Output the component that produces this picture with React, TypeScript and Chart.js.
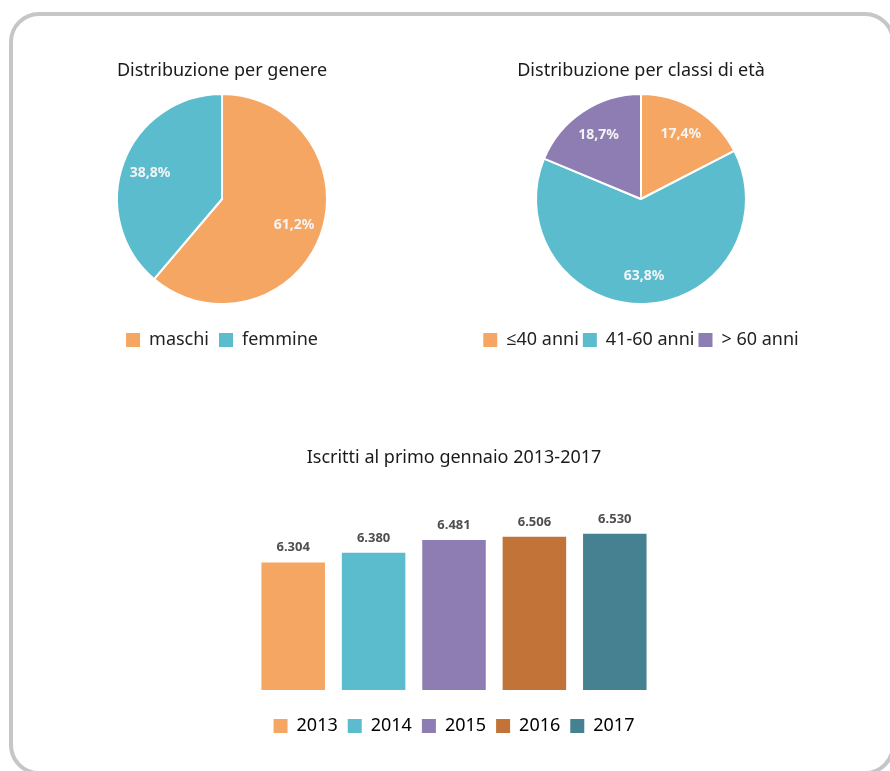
import React, { useEffect, useRef } from "react";
import { Chart, registerables } from "chart.js";

Chart.register(...registerables);

const FONT = '"Noto Sans", "Open Sans", sans-serif';

// ---- data ----
const genderTitle = "Distribuzione per genere";
const genderLabels = ["maschi", "femmine"];
const genderValues = [61.2, 38.8];
const genderColors = ["#F6A663", "#5BBCCE"];

const ageTitle = "Distribuzione per classi di età";
const ageLabels = ["≤40 anni", "41-60 anni", "> 60 anni"];
const ageValues = [17.4, 63.8, 18.7];
const ageColors = ["#F6A663", "#5BBCCE", "#8D7DB3"];

const barTitle = "Iscritti al primo gennaio 2013-2017";
const years = ["2013", "2014", "2015", "2016", "2017"];
const enrolled = [6304, 6380, 6481, 6506, 6530];
const yearColors = ["#F6A663", "#5BBCCE", "#8D7DB3", "#C27338", "#458190"];

const Y_MIN = 5300;
const Y_MAX = 6745;

const fmtPct = (v: number) => v.toFixed(1).replace(".", ",") + "%";
const fmtThousands = (v: number) =>
  Math.floor(v / 1000) + "." + String(v % 1000).padStart(3, "0");

const pieLabelPlugin = {
  id: "pieLabels",
  afterDatasetsDraw(chart: any) {
    const ctx = chart.ctx;
    const meta = chart.getDatasetMeta(0);
    const values = chart.data.datasets[0].data as number[];
    ctx.save();
    ctx.font = `bold 14px ${FONT}`;
    ctx.fillStyle = "#f4f4f4";
    ctx.textAlign = "center";
    ctx.textBaseline = "middle";
    meta.data.forEach((arc: any, i: number) => {
      const p = arc.getProps(["x", "y", "startAngle", "endAngle", "outerRadius"], true);
      const mid = (p.startAngle + p.endAngle) / 2;
      const r = p.outerRadius * 0.73;
      ctx.fillText(fmtPct(values[i]), p.x + Math.cos(mid) * r, p.y + Math.sin(mid) * r);
    });
    ctx.restore();
  },
};

const barLabelPlugin = {
  id: "barLabels",
  afterDatasetsDraw(chart: any) {
    const ctx = chart.ctx;
    const meta = chart.getDatasetMeta(0);
    const values = chart.data.datasets[0].data as number[];
    ctx.save();
    ctx.font = `bold 13px ${FONT}`;
    ctx.fillStyle = "#4f4f4f";
    ctx.textAlign = "center";
    ctx.textBaseline = "middle";
    meta.data.forEach((bar: any, i: number) => {
      const p = bar.getProps(["x", "y"], true);
      ctx.fillText(fmtThousands(values[i]), p.x, p.y - 15);
    });
    ctx.restore();
  },
};

type PieProps = {
  title: string;
  labels: string[];
  values: number[];
  colors: string[];
  legendPadding: number;
  titleLineHeight: number;
  titlePadTop: number;
  left: number;
  top: number;
  width: number;
  height: number;
};

function PieChart(props: PieProps) {
  const ref = useRef<HTMLCanvasElement>(null);
  useEffect(() => {
    const chart = new Chart(ref.current as HTMLCanvasElement, {
      type: "pie",
      data: {
        labels: props.labels,
        datasets: [
          {
            data: props.values,
            backgroundColor: props.colors,
            borderColor: "#ffffff",
            borderWidth: 2,
            radius: 105,
          } as any,
        ],
      },
      options: {
        animation: false,
        responsive: false,
        maintainAspectRatio: false,
        radius: 105,
        layout: { padding: 0 },
        plugins: {
          tooltip: { enabled: false },
          title: {
            display: true,
            text: props.title,
            color: "#1a1a1a",
            font: { family: FONT, size: 18, weight: "normal", lineHeight: props.titleLineHeight },
            padding: { top: props.titlePadTop, bottom: 0 },
          },
          legend: {
            position: "bottom",
            labels: {
              boxWidth: 14,
              boxHeight: 14,
              padding: props.legendPadding,
              color: "#222222",
              font: { family: FONT, size: 18 },
              generateLabels: (c: any) =>
                (Chart as any).overrides.doughnut.plugins.legend.labels
                  .generateLabels(c)
                  .map((l: any) => ({ ...l, lineWidth: 0 })),
            },
          },
        },
      } as any,
      plugins: [pieLabelPlugin],
    });
    return () => chart.destroy();
  }, []);
  return (
    <canvas
      ref={ref}
      width={props.width}
      height={props.height}
      style={{
        position: "absolute",
        left: props.left,
        top: props.top,
        width: props.width,
        height: props.height,
      }}
    />
  );
}

function BarChart() {
  const ref = useRef<HTMLCanvasElement>(null);
  useEffect(() => {
    const chart = new Chart(ref.current as HTMLCanvasElement, {
      type: "bar",
      data: {
        labels: years,
        datasets: [
          {
            data: enrolled,
            backgroundColor: yearColors,
            borderWidth: 0,
            categoryPercentage: 1,
            barPercentage: 0.79,
          },
        ],
      },
      options: {
        animation: false,
        responsive: false,
        maintainAspectRatio: false,
        layout: { padding: 0 },
        scales: {
          x: {
            display: true,
            grid: { display: false, drawTicks: false },
            border: { display: false },
            ticks: { display: false },
            title: {
              display: true,
              text: "",
              font: { size: 10, lineHeight: 1 },
              padding: { top: 7, bottom: 0 },
            },
          },
          y: { display: false, min: Y_MIN, max: Y_MAX },
        },
        plugins: {
          tooltip: { enabled: false },
          title: {
            display: true,
            text: barTitle,
            color: "#1a1a1a",
            font: { family: FONT, size: 18, weight: "normal", lineHeight: 1 },
            padding: { top: 8.5, bottom: 40 },
          },
          legend: {
            position: "bottom",
            labels: {
              boxWidth: 14,
              boxHeight: 14,
              padding: 10,
              color: "#222222",
              font: { family: FONT, size: 18 },
              generateLabels: () =>
                years.map((y, i) => ({
                  text: y,
                  fillStyle: yearColors[i],
                  strokeStyle: yearColors[i],
                  lineWidth: 0,
                  hidden: false,
                  index: i,
                  datasetIndex: 0,
                })),
            },
          },
        },
      } as any,
      plugins: [barLabelPlugin],
    });
    return () => chart.destroy();
  }, []);
  return (
    <canvas
      ref={ref}
      width={402}
      height={305}
      style={{ position: "absolute", left: 253, top: 440, width: 402, height: 305 }}
    />
  );
}

export default function App() {
  return (
    <div
      style={{
        position: "absolute",
        left: 0,
        top: 0,
        width: 890,
        height: 771,
        overflow: "hidden",
        background: "#ffffff",
      }}
    >
      <div
        style={{
          position: "absolute",
          left: 9,
          top: 12,
          width: 886,
          height: 763,
          boxSizing: "border-box",
          border: "4px solid #c6c6c6",
          borderRadius: 30,
        }}
      />
      <PieChart
        title={genderTitle}
        labels={genderLabels}
        values={genderValues}
        colors={genderColors}
        legendPadding={10}
        titleLineHeight={0.722}
        titlePadTop={24}
        left={92}
        top={40}
        width={260}
        height={319}
      />
      <PieChart
        title={ageTitle}
        labels={ageLabels}
        values={ageValues}
        colors={ageColors}
        legendPadding={4}
        titleLineHeight={0.056}
        titlePadTop={30}
        left={460}
        top={40}
        width={362}
        height={319}
      />
      <BarChart />
    </div>
  );
}
